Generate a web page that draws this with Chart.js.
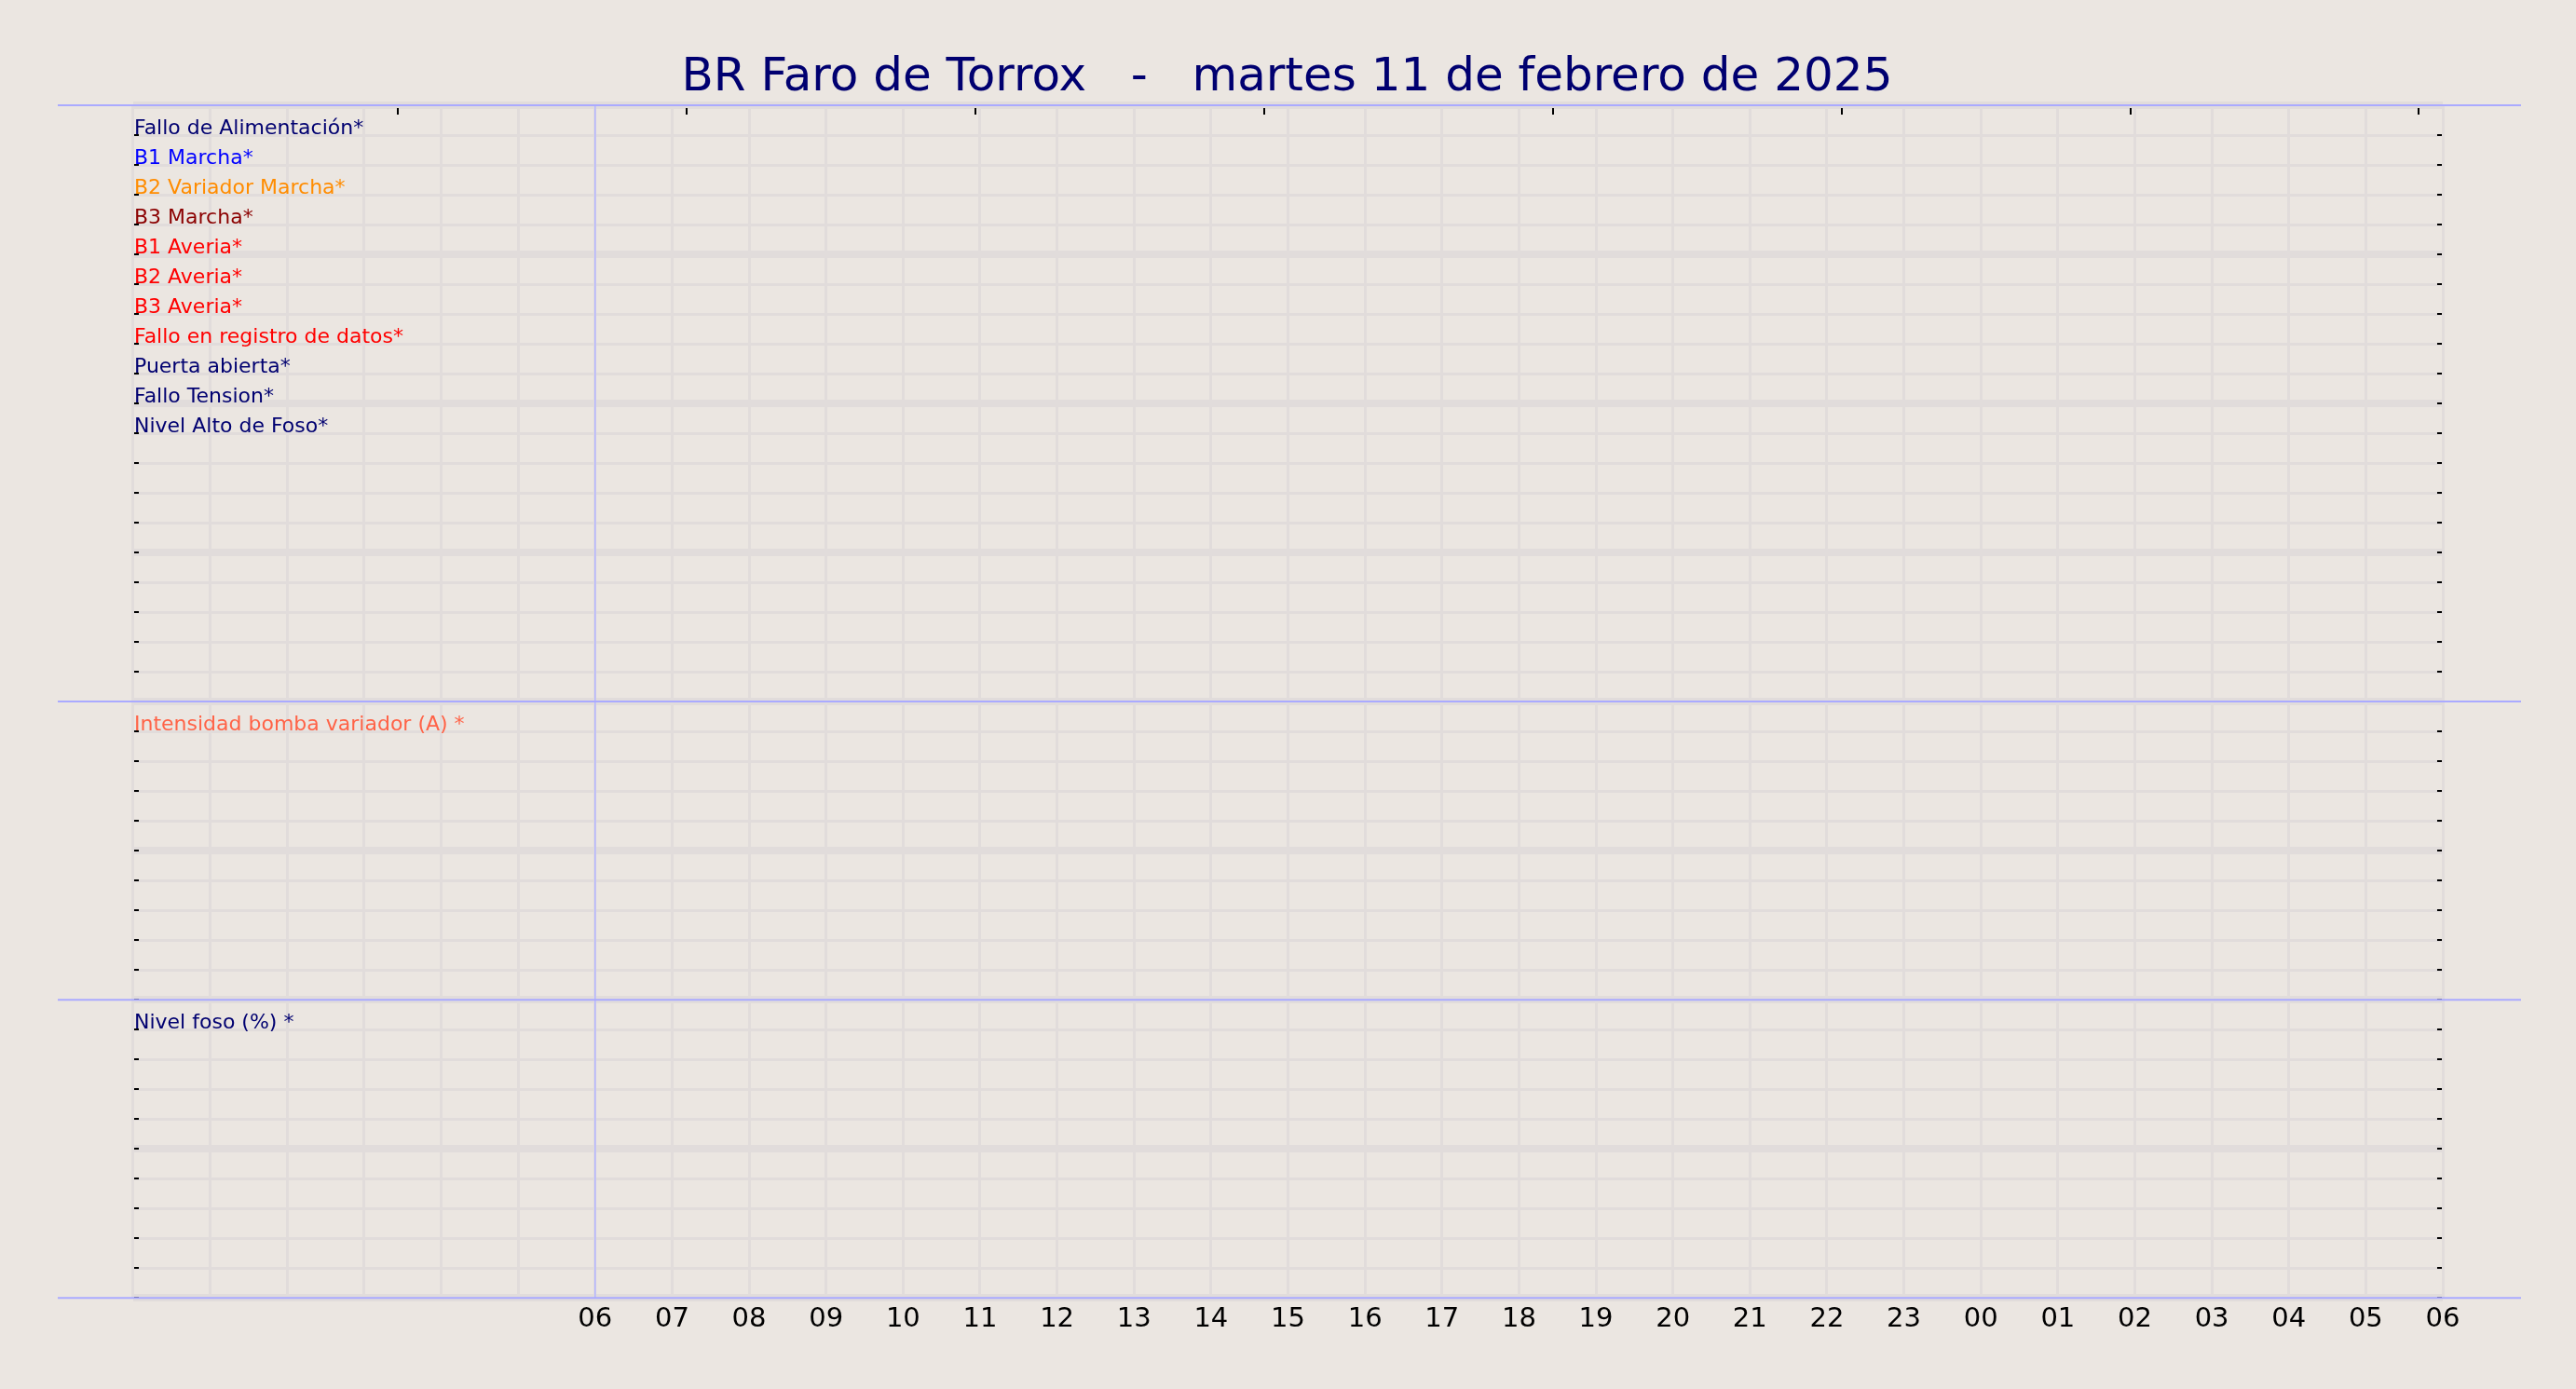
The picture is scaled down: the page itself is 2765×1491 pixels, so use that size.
<!DOCTYPE html>
<html>
<head>
<meta charset="utf-8">
<script src="https://cdn.jsdelivr.net/npm/chart.js@4"></script>
<style>
  html, body { margin: 0; padding: 0; background: #ebe6e1; }
  #wrap { width: 2765px; height: 1491px; }
</style>
</head>
<body>
<div id="wrap"><canvas id="chart" width="2765" height="1491"></canvas></div>
<script>
"use strict";

const FONT = "DejaVu Sans";
const BG = "#ebe6e1";
const GRID = "#e1dcdb";
const SEP = "#aaaaff";
const NAVY = "#000070";

const titleText = "BR Faro de Torrox   -   martes 11 de febrero de 2025";

// alarm rows of the top panel, top to bottom
const alarmLabels = [
  "Fallo de Alimentación*",
  "B1 Marcha*",
  "B2 Variador Marcha*",
  "B3 Marcha*",
  "B1 Averia*",
  "B2 Averia*",
  "B3 Averia*",
  "Fallo en registro de datos*",
  "Puerta abierta*",
  "Fallo Tension*",
  "Nivel Alto de Foso*",
];
const alarmColors = [
  NAVY, "#0000ff", "#ff8c00", "#8b0000", "#ff0000", "#ff0000",
  "#ff0000", "#ff0000", NAVY, NAVY, NAVY,
];
// no alarm events in the window
const alarmValues = [[], [], [], [], [], [], [], [], [], [], []];

const intensidadLabel = "Intensidad bomba variador (A) *";
const intensidadValues = [];
const nivelFosoLabel = "Nivel foso (%) *";
const nivelFosoValues = [];

// hours since 00:00 of the day; labels start at 06
const hourLabels = [
  "06", "07", "08", "09", "10", "11", "12", "13", "14", "15", "16", "17",
  "18", "19", "20", "21", "22", "23", "00", "01", "02", "03", "04", "05", "06",
];
const firstLabelHour = 6;
const markerHour = 6;
const topTickHours = [3.44, 7.19, 10.94, 14.69, 18.44, 22.19, 25.94, 29.69];

const gridWidth = (ctx) => (ctx.tick && ctx.tick.value % 5 === 0 ? 8 : 3);

const panelAxis = (weight, max, labelAt, labelColor) => ({
  type: "linear",
  position: "left",
  stack: "v",
  stackWeight: max,
  weight: weight,
  min: 0,
  max: max,
  border: { display: false },
  grid: { color: GRID, lineWidth: gridWidth, drawTicks: false },
  ticks: {
    stepSize: 1,
    autoSkip: false,
    mirror: true,
    padding: 1,
    labelOffset: -7,
    font: { family: FONT, size: 22 },
    color: (ctx) => labelColor(ctx.tick.value),
    callback: (v) => labelAt(v),
  },
});

const datasets = alarmLabels.map((name, i) => ({
  label: name,
  data: alarmValues[i],
  borderColor: alarmColors[i],
  yAxisID: "yTop",
}));
datasets.push({ label: intensidadLabel, data: intensidadValues, borderColor: "#ff6347", yAxisID: "yMid" });
datasets.push({ label: nivelFosoLabel, data: nivelFosoValues, borderColor: NAVY, yAxisID: "yBot" });

// separators, inner tick marks and the 06 marker
const panelLines = {
  id: "panelLines",
  afterDraw(chart) {
    const { ctx, chartArea: ca, scales } = chart;
    ctx.save();
    ctx.fillStyle = "#000";
    for (const id of ["yTop", "yMid", "yBot"]) {
      const s = scales[id];
      s.ticks.forEach((t) => {
        const y = Math.round(s.getPixelForValue(t.value));
        ctx.fillRect(ca.left + 1, y - 1, 5, 2);
        ctx.fillRect(ca.right - 6, y - 1, 5, 2);
      });
    }
    topTickHours.forEach((h) => {
      const x = Math.round(scales.x.getPixelForValue(h));
      ctx.fillRect(x - 1, ca.top + 3, 2, 7);
    });

    ctx.strokeStyle = "#b4b4ff";
    ctx.lineWidth = 1.5;
    const mx = scales.x.getPixelForValue(markerHour);
    ctx.beginPath();
    ctx.moveTo(mx, ca.top);
    ctx.lineTo(mx, ca.bottom);
    ctx.stroke();

    ctx.strokeStyle = SEP;
    ctx.lineWidth = 2;
    const ys = [scales.yTop.top, scales.yMid.top, scales.yBot.top, scales.yBot.bottom];
    ys.forEach((y) => {
      ctx.beginPath();
      ctx.moveTo(ca.left - 81, y);
      ctx.lineTo(ca.right + 84, y);
      ctx.stroke();
    });
    ctx.restore();
  },
};

const background = {
  id: "background",
  beforeDraw(chart) {
    const { ctx } = chart;
    ctx.save();
    ctx.fillStyle = BG;
    ctx.fillRect(0, 0, chart.width, chart.height);
    ctx.restore();
  },
};

new Chart(document.getElementById("chart"), {
  type: "line",
  data: { datasets: datasets },
  options: {
    responsive: false,
    animation: false,
    devicePixelRatio: 1,
    layout: { padding: { left: 141, right: 143, top: 0, bottom: 51 } },
    plugins: {
      legend: { display: false },
      tooltip: { enabled: false },
      title: {
        display: true,
        text: titleText,
        color: NAVY,
        font: { family: FONT, size: 50, weight: "normal", lineHeight: 1.16 },
        padding: { top: 55, bottom: 0 },
      },
    },
    scales: {
      x: {
        type: "linear",
        position: "bottom",
        min: 0,
        max: 30,
        border: { display: false },
        grid: { color: GRID, lineWidth: 3, drawTicks: false },
        ticks: {
          stepSize: 1,
          autoSkip: false,
          maxRotation: 0,
          padding: 6,
          color: "#000",
          font: { family: FONT, size: 29 },
          callback: (v) => (v >= firstLabelHour ? hourLabels[v - firstLabelHour] : ""),
        },
      },
      yTop: panelAxis(3, 20,
        (v) => alarmLabels[19 - v] || "",
        (v) => alarmColors[19 - v] || "#000"),
      yMid: panelAxis(2, 10,
        (v) => (v === 9 ? intensidadLabel : ""),
        () => "#ff6347"),
      yBot: panelAxis(1, 10,
        (v) => (v === 9 ? nivelFosoLabel : ""),
        () => NAVY),
    },
  },
  plugins: [background, panelLines],
});
</script>
</body>
</html>
